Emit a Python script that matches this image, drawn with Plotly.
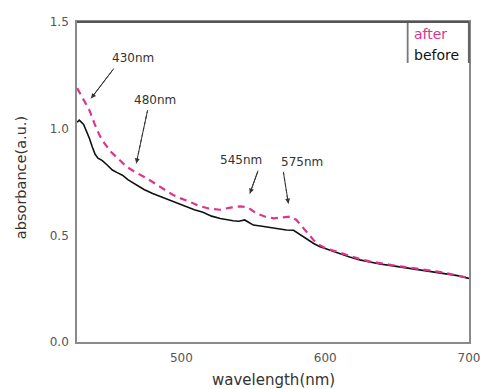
import plotly.graph_objects as go

before_wl = [427.5, 429, 432, 434, 436, 438, 440, 442, 445, 448, 452, 455, 459, 463, 468.6,
             474, 480, 486, 492, 498, 503.5, 509, 515, 521, 527, 532, 536, 540, 544, 547, 550, 555,
             559, 564, 569, 573, 578, 581, 585, 589, 592, 596, 601, 606, 611, 617, 624, 631, 638,
             646, 654, 662, 670, 678, 685, 692, 700]
before_abs = [1.03, 1.04, 1.02, 0.99, 0.955, 0.915, 0.88, 0.862, 0.85, 0.832, 0.806, 0.795,
              0.782, 0.76, 0.735, 0.715, 0.696, 0.68, 0.665, 0.648, 0.634, 0.62, 0.608, 0.59, 0.579,
              0.572, 0.568, 0.566, 0.572, 0.56, 0.548, 0.544, 0.54, 0.532, 0.527, 0.525, 0.524, 0.51,
              0.493, 0.474, 0.462, 0.448, 0.436, 0.424, 0.413, 0.398, 0.385, 0.374, 0.366, 0.358,
              0.35, 0.343, 0.335, 0.327, 0.32, 0.311, 0.298]

after_wl = [427.5, 430, 432.5, 436, 439.5, 443, 446.5, 451, 457, 462, 468, 476, 485, 494, 500, 506,
            512, 519, 527, 534, 541, 546, 552, 558, 564, 570, 576, 580, 585, 589, 592, 596, 600,
            606, 611, 617, 624, 631, 638, 646, 654, 662, 670, 678, 685, 692, 700]
after_abs = [1.19, 1.16, 1.134, 1.087, 1.025, 0.97, 0.931, 0.892, 0.853, 0.821, 0.796, 0.767, 0.728,
             0.69, 0.672, 0.657, 0.638, 0.626, 0.62, 0.63, 0.636, 0.632, 0.603, 0.588, 0.58, 0.584,
             0.588, 0.572, 0.533, 0.5, 0.477, 0.455, 0.44, 0.428, 0.417, 0.402, 0.389, 0.378, 0.369,
             0.361, 0.353, 0.346, 0.338, 0.33, 0.322, 0.313, 0.3]

x_ticks = [500, 600, 700]
y_ticks = [0.0, 0.5, 1.0, 1.5]
y_tick_labels = ["0.0", "0.5", "1.0", "1.5"]

# peak callouts: label, arrow tip, label centre, arrow tail, dotted?
peak_labels = ["430nm", "480nm", "545nm", "575nm"]
peak_tip_x = [437.2, 468.6, 547.6, 574.4]
peak_tip_y = [1.142, 0.837, 0.696, 0.649]
peak_text_x = [466, 481.4, 541.5, 583.9]
peak_text_y = [1.331, 1.134, 0.853, 0.845]
peak_tail_x = [453.0, 476.5, 553.3, 570.9]
peak_tail_y = [1.282, 1.087, 0.803, 0.798]
peak_dotted = [False, True, False, True]

MAGENTA = "#e0338c"
FONT = "DejaVu Sans, Verdana, sans-serif"
ARROW = "#333333"

fig = go.Figure()
fig.add_trace(go.Scatter(x=before_wl, y=before_abs, mode="lines", name="before",
                         line=dict(color="#111111", width=1.6)))
fig.add_trace(go.Scatter(x=after_wl, y=after_abs, mode="lines", name="after",
                         line=dict(color=MAGENTA, width=2.2, dash="7px,5px")))

for lbl, tx, ty, cx, cy, sx, sy, dotted in zip(peak_labels, peak_tip_x, peak_tip_y, peak_text_x,
                                               peak_text_y, peak_tail_x, peak_tail_y, peak_dotted):
    fig.add_annotation(x=cx, y=cy, xref="x", yref="y", text=lbl, showarrow=False,
                       font=dict(family=FONT, size=12, color="#333333"))
    fig.add_shape(type="line", xref="x", yref="y", x0=sx, y0=sy, x1=tx, y1=ty,
                  line=dict(color=ARROW, width=1, dash="dot" if dotted else "solid"))
    fig.add_annotation(x=tx, y=ty, xref="x", yref="y", ax=sx, ay=sy, axref="x", ayref="y",
                       text="", showarrow=True, arrowhead=2, arrowsize=1, arrowwidth=1,
                       arrowcolor=ARROW, opacity=1)

# legend (text-only)
fig.add_annotation(x=0.855, y=0.961, xref="paper", yref="paper", text="after", showarrow=False,
                   xanchor="left", yanchor="middle", font=dict(family=FONT, size=14, color=MAGENTA))
fig.add_annotation(x=0.855, y=0.898, xref="paper", yref="paper", text="before", showarrow=False,
                   xanchor="left", yanchor="middle", font=dict(family=FONT, size=14, color="#111111"))
fig.add_shape(type="line", xref="paper", yref="paper", x0=0.8435, x1=0.8435, y0=0.872, y1=1.0,
              line=dict(color="#777777", width=1.8))
fig.add_shape(type="line", xref="paper", yref="paper", x0=1.0, x1=1.0, y0=0.872, y1=1.0,
              line=dict(color="#666666", width=2.2))
fig.add_shape(type="line", xref="paper", yref="paper", x0=0, x1=1.0, y0=1.0, y1=1.0,
              line=dict(color="#555555", width=2))

# axis titles
fig.add_annotation(x=0.5, y=-0.119, xref="paper", yref="paper", text="wavelength(nm)",
                   showarrow=False, yanchor="middle", font=dict(family=FONT, size=15, color="#333333"))
fig.add_annotation(x=-0.1425, y=0.5125, xref="paper", yref="paper", text="absorbance(a.u.)",
                   showarrow=False, textangle=-90, xanchor="center", yanchor="middle",
                   font=dict(family=FONT, size=14.5, color="#333333"))

fig.update_layout(
    width=480, height=389,
    margin=dict(l=77, r=11, t=22, b=47, autoexpand=False),
    plot_bgcolor="white", paper_bgcolor="white",
    showlegend=False,
    font=dict(family=FONT, size=12, color="#555555"),
    xaxis=dict(range=[427.4, 700], tickvals=x_ticks, showgrid=False, zeroline=False,
               showline=True, mirror=True, linecolor="#8a8a8a", linewidth=1.6, ticks="",
               automargin=False, ticklabeloverflow="allow", ticklabelstandoff=4,
               tickfont=dict(size=12, color="#555555")),
    yaxis=dict(range=[0, 1.5], tickvals=y_ticks, ticktext=y_tick_labels, showgrid=False,
               zeroline=False, showline=True, mirror=True, linecolor="#8a8a8a", linewidth=1.6,
               automargin=False, ticklabeloverflow="allow", ticks="", ticklabelstandoff=4,
               tickfont=dict(size=12, color="#555555")),
)

fig.write_html("out.html", config={"displayModeBar": False},
               post_script="document.body.style.margin='0';document.body.style.overflow='hidden';")
